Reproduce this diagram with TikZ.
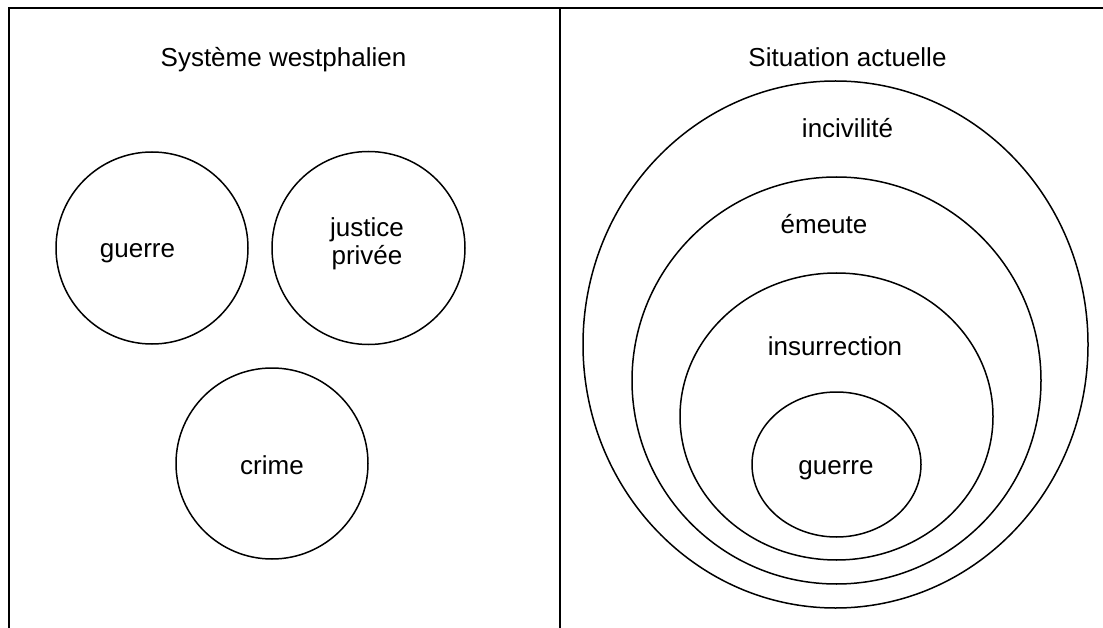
\documentclass[tikz,border=0pt]{standalone}
\usepackage{fontspec}
\setmainfont{Liberation Sans}
\usetikzlibrary{shapes.geometric}
\begin{document}
\begin{tikzpicture}[x=1pt,y=-1pt,
  frameline/.style={line width=2pt,black},
  ring/.style={draw=black,line width=1.5pt,ellipse,inner sep=0pt},
  lbl/.style={anchor=base,inner sep=0pt,font=\fontsize{26}{28}\selectfont}]
\useasboundingbox (0,0) rectangle (1103,628);
% frame
\coordinate (tl) at (8.5,8.5);
\coordinate (tr) at (1103,8.5);
\coordinate (bl) at (8.5,628);
\coordinate (tm) at (559.5,8.5);
\coordinate (bm) at (559.5,628);
\draw[frameline] (bl) -- (tl) -- (tr);
\draw[frameline] (tm) -- (bm);
% left panel
\node[lbl] (t1) at (283.5,67) {Système westphalien};
\node[ring,minimum width=192pt,minimum height=192pt] (c1) at (152,248) {};
\node[ring,minimum width=193pt,minimum height=193pt] (c2) at (368.5,248) {};
\node[ring,minimum width=192pt,minimum height=191pt] (c3) at (272,463.5) {};
\node[lbl] (g1) at (137.5,258) {guerre};
\node[lbl] (j1) at (367,237) {justice};
\node[lbl] (j2) at (367,265) {privée};
\node[lbl] (cr) at (272,474) {crime};
% right panel
\node[lbl] (t2) at (847.5,67) {Situation actuelle};
\node[ring,minimum width=505pt,minimum height=527pt] (e1) at (835.5,344.5) {};
\node[ring,minimum width=409pt,minimum height=407pt] (e2) at (836.5,380.5) {};
\node[ring,minimum width=313pt,minimum height=287pt] (e3) at (836.5,416.5) {};
\node[ring,minimum width=169pt,minimum height=145pt] (e4) at (836.5,464.5) {};
\node[lbl] (l1) at (847.5,138) {incivilité};
\node[lbl] (l2) at (824,234) {émeute};
\node[lbl] (l3) at (835,355) {insurrection};
\node[lbl] (l4) at (836,474) {guerre};
\end{tikzpicture}
\end{document}
